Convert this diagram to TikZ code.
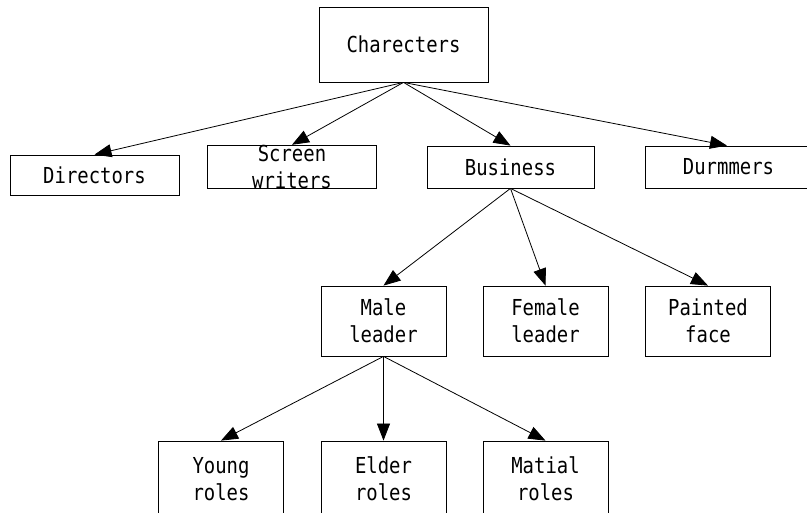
\documentclass[tikz,border=0pt]{standalone}
\usepackage{fontspec}
\newfontfamily\diafont[FakeStretch=0.86]{DejaVu Sans Mono}
\usetikzlibrary{arrows.meta}
\begin{document}
\begin{tikzpicture}[x=1pt,y=-1pt,
  box/.style={draw, line width=0.8pt, inner sep=0pt, align=center,
    font=\diafont\fontsize{22}{27}\selectfont},
  topbox/.style={box, minimum width=169pt, minimum height=75pt},
  widebox/.style={box, minimum width=169pt, minimum height=42pt},
  midbox/.style={box, minimum width=125pt, minimum height=70pt},
  lowbox/.style={box, minimum width=125pt, minimum height=76pt},
  link/.style={-{Triangle[length=17pt,width=13pt]}, line width=0.8pt}]
\clip (0,0) rectangle (807,513);
\fill[white] (0,0) rectangle (807,513);
\node[topbox] (char) at (403.5,44.5) {Charecters};
\node[widebox, minimum height=40pt] (dir) at (94.5,175) {Directors};
\node[widebox] (scr) at (292,167) {Screen\\writers};
\node[widebox, minimum width=167pt] (bus) at (510.5,167) {Business};
\node[widebox, minimum width=167pt] (drum) at (728.5,167) {Durmmers};
\node[midbox] (male) at (383.5,321) {Male\\leader};
\node[midbox] (fem) at (545.5,321) {Female\\leader};
\node[midbox] (paint) at (708,321) {Painted\\face};
\node[lowbox] (young) at (221,479) {Young\\roles};
\node[lowbox] (elder) at (383.5,479) {Elder\\roles};
\node[lowbox] (mat) at (545.5,479) {Matial\\roles};
\draw[link] (char.south) -- (dir.north);
\draw[link] (char.south) -- (scr.north);
\draw[link] (char.south) -- (bus.north);
\draw[link] (char.south) -- (drum.north -| 727,0);
\draw[link] (bus.south) -- (male.north);
\draw[link] (bus.south) -- (fem.north);
\draw[link] (bus.south) -- (paint.north);
\draw[link] (male.south) -- (young.north);
\draw[link] (male.south) -- (elder.north);
\draw[link] (male.south) -- (mat.north);
\end{tikzpicture}
\end{document}
